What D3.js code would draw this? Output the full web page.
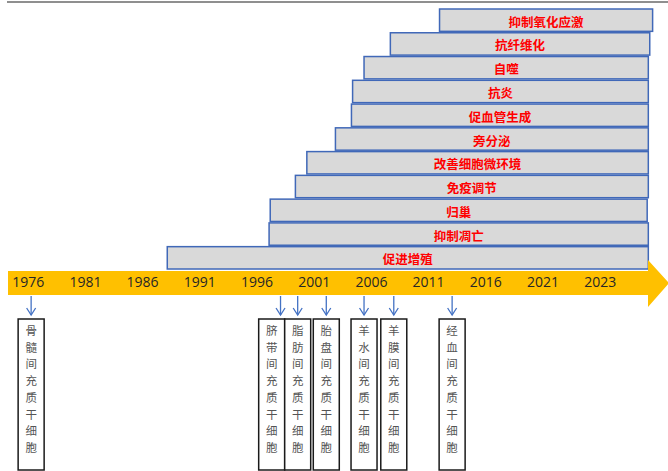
<!DOCTYPE html>
<html>
<head>
<meta charset="utf-8">
<script src="https://cdn.jsdelivr.net/npm/d3@7"></script>
<style>
  body { margin: 0; background: #fff; }
  svg { display: block; }
</style>
</head>
<body>
<svg id="chart"></svg>
<script>
const width = 668;
const height = 471;

// timeline tick labels
const tickYears = [1976, 1981, 1986, 1991, 1996, 2001, 2006, 2011, 2016, 2021, 2023];

// effects, top to bottom, with the years each bar spans
const effects = ["抑制氧化应激", "抗纤维化", "自噬", "抗炎", "促血管生成", "旁分泌",
                 "改善细胞微环境", "免疫调节", "归巢", "抑制凋亡", "促进增殖"];
const effectStart = [2012.0, 2007.7, 2005.4, 2004.4, 2004.3, 2002.9, 2000.4, 1999.4, 1997.2, 1997.1, 1988.2];
const effectEnd = [2024.85, 2024.75, 2024.7, 2024.7, 2024.7, 2024.7, 2024.7, 2024.7, 2024.66, 2024.7, 2024.7];

// cell sources and where they sit on the timeline
const sources = ["骨髓间充质干细胞", "脐带间充质干细胞", "脂肪间充质干细胞", "胎盘间充质干细胞",
                 "羊水间充质干细胞", "羊膜间充质干细胞", "经血间充质干细胞"];
const sourceYears = [1976.3, 1998.1, 1999.6, 2002.1, 2005.4, 2008.0, 2013.1];

const svg = d3.select("#chart")
              .attr("width", width)
              .attr("height", height);

// ticks are evenly spaced, years in between are interpolated per segment
const xPoint = d3.scalePoint().domain(tickYears).range([27.7, 599.7]);
const x = d3.scaleLinear().domain(tickYears).range(tickYears.map(d => xPoint(d)));

const y = d3.scaleBand().domain(effects).range([9, 269]).paddingInner(0.06);

// thin grey rule at the very top
svg.append("line")
   .attr("x1", 7).attr("x2", width)
   .attr("y1", 2).attr("y2", 2)
   .attr("stroke", "#8f8f8f")
   .attr("stroke-width", 2);

// effect bars
const bars = svg.append("g").selectAll("g")
    .data(effects)
    .enter()
    .append("g");

bars.append("rect")
    .attr("x", (d, i) => x(effectStart[i]))
    .attr("y", d => y(d))
    .attr("width", (d, i) => x(effectEnd[i]) - x(effectStart[i]))
    .attr("height", y.bandwidth())
    .attr("fill", "#d9d9d9")
    .attr("stroke", "#4068b8")
    .attr("stroke-width", 1.5);

bars.append("text")
    .attr("x", (d, i) => (x(effectStart[i]) + x(effectEnd[i])) / 2)
    .attr("y", d => y(d) + y.bandwidth() / 2 + 1)
    .attr("text-anchor", "middle")
    .attr("dominant-baseline", "central")
    .attr("fill", "#ff0000")
    .style("font-family", "'Noto Sans CJK SC', sans-serif")
    .style("font-size", "12.5px")
    .style("font-weight", "bold")
    .text(d => d);

// yellow timeline arrow
const band = { left: 8, right: 648, top: 271, bottom: 295, headTop: 260, headBottom: 307, tip: 669 };
svg.append("path")
   .attr("d", `M${band.left},${band.top}H${band.right}V${band.headTop}L${band.tip},${(band.top + band.bottom) / 2}` +
              `L${band.right},${band.headBottom}V${band.bottom}H${band.left}Z`)
   .attr("fill", "#ffc000");

const xAxis = d3.axisBottom(xPoint).tickSize(0).tickPadding(0);
const axis = svg.append("g")
   .attr("transform", "translate(0, 277)")
   .call(xAxis);
axis.select(".domain").remove();
axis.selectAll("text")
    .attr("fill", "#262626")
    .style("font-family", "'Open Sans', sans-serif")
    .style("font-size", "14px");

// source boxes, pushed left when they would overlap the next one
const boxW = 26, boxTop = 319, boxBottom = 470;
const centers = sourceYears.map(d => x(d));
for (let i = centers.length - 2; i >= 0; i--) {
    if (centers[i] + boxW > centers[i + 1]) centers[i] = centers[i + 1] - boxW;
}

const src = svg.append("g").selectAll("g")
    .data(sources)
    .enter()
    .append("g");

// down arrows
src.append("line")
   .attr("x1", (d, i) => x(sourceYears[i]))
   .attr("x2", (d, i) => x(sourceYears[i]))
   .attr("y1", 296).attr("y2", 315)
   .attr("stroke", "#4472c4")
   .attr("stroke-width", 1.3);
src.append("path")
   .attr("d", (d, i) => {
       const cx = x(sourceYears[i]);
       return `M${cx - 4.5},${308}L${cx},${315}L${cx + 4.5},${308}`;
   })
   .attr("fill", "none")
   .attr("stroke", "#4472c4")
   .attr("stroke-width", 1.3);

src.append("rect")
   .attr("x", (d, i) => centers[i] - boxW / 2)
   .attr("y", boxTop)
   .attr("width", boxW)
   .attr("height", boxBottom - boxTop)
   .attr("fill", "#fff")
   .attr("stroke", "#1a1a1a")
   .attr("stroke-width", 1.5);

src.each(function(d, i) {
    d3.select(this).selectAll("text")
      .data(Array.from(d))
      .enter()
      .append("text")
      .attr("x", centers[i])
      .attr("y", (c, j) => boxTop + 11 + j * 16.7)
      .attr("text-anchor", "middle")
      .attr("dominant-baseline", "central")
      .attr("fill", "#555")
      .style("font-family", "'Noto Sans CJK SC', sans-serif")
      .style("font-size", "11.5px")
      .text(c => c);
});
</script>
</body>
</html>
